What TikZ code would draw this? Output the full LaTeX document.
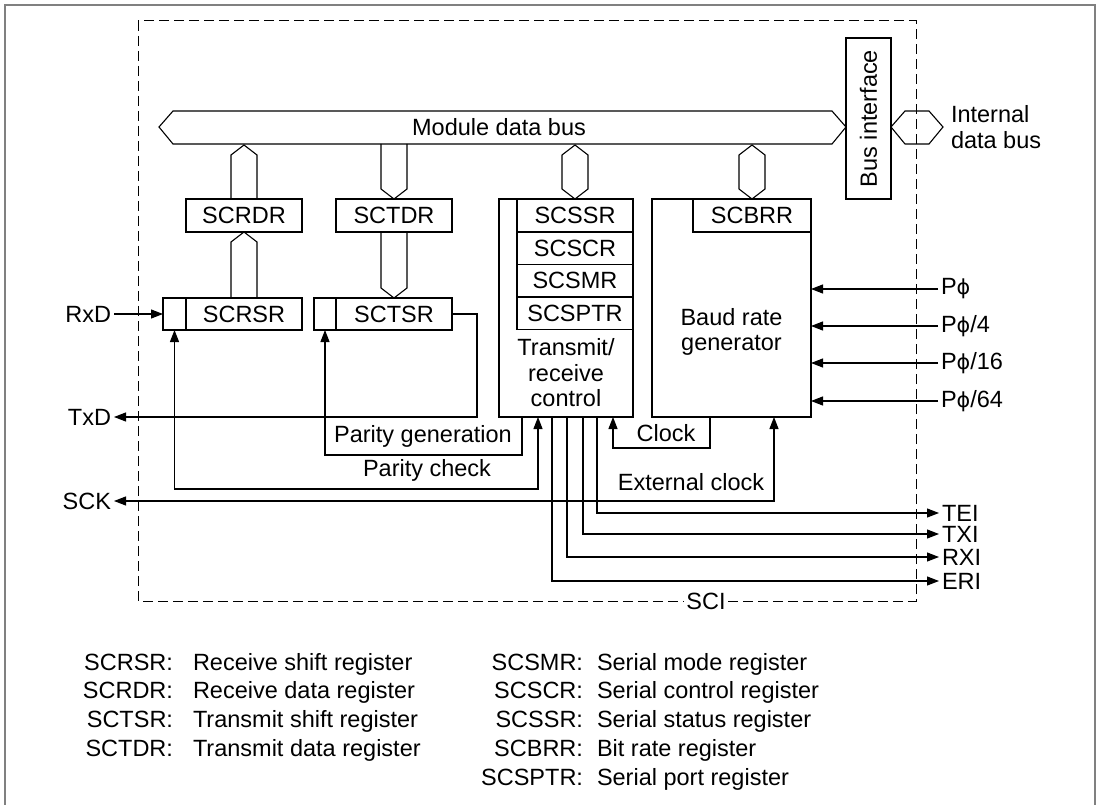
\documentclass[tikz,border=0pt]{standalone}
\usepackage{fontspec}
\setmainfont{Liberation Sans}
\newfontfamily\phifont{DejaVu Sans}[Scale=0.88]
\usetikzlibrary{arrows.meta,calc}
\newcommand{\Pphi}{P{\phifont ϕ}}
\begin{document}
\begin{tikzpicture}[x=1pt,y=-1pt,line width=1.1pt,
  every node/.style={font=\fontsize{23.5}{25.5}\selectfont,inner sep=0pt,outer sep=0pt},
  reg/.style={draw,inner sep=0pt,outer sep=0pt},
  arr/.style={-{Triangle[length=12pt,width=9pt]}},
  barr/.style={{Triangle[length=12pt,width=9pt]}-{Triangle[length=12pt,width=9pt]}},
  sig/.style={inner sep=3pt},
  irq/.style={inner xsep=3pt,inner ysep=0pt},
  frame/.style={draw=black!50,line width=1.6pt},
  sci/.style={draw,dashed,dash pattern=on 10pt off 5pt,line width=1pt}]
\useasboundingbox (0,0) rectangle (1101,805);
% outer frame
\draw[frame] (5,805) -- (5,5) -- (1095,5) -- (1095,805);
% SCI dashed boundary
\draw[sci] (138,21) rectangle (916,601);
\node[fill=white,inner sep=2pt] (scilbl) at (706,601) {SCI};

% bus interface
\node[reg,minimum width=45pt,minimum height=161pt] (busif) at (868.5,118.5) {};
\node[rotate=90] (busiftxt) at (busif.center) {Bus interface};

% module data bus
\draw (busif.west |- 0,127) coordinate (mbusR) -- (832,111) -- (173,111) -- (159,127) -- (173,144) -- (832,144) -- cycle;
\node (mbus) at (499,127) {Module data bus};
% internal data bus
\draw (busif.east |- 0,127) -- (905,111) -- (929,111) -- (943,127) -- (929,144) -- (905,144) -- cycle;
\node[anchor=west,align=left] (ibus) at (951,127) {Internal\\data bus};

% registers
\node[reg,minimum width=116pt,minimum height=33pt] (scrdr) at (244,215.5) {SCRDR};
\node[reg,minimum width=116pt,minimum height=33pt] (sctdr) at (394,215.5) {SCTDR};
\node[reg,minimum width=116pt,minimum height=32pt] (scrsr) at (244,314) {SCRSR};
\node[reg,minimum width=23pt,minimum height=32pt] (scrsrcell) at (174.5,314) {};
\node[reg,minimum width=116pt,minimum height=32pt] (sctsr) at (394,314) {SCTSR};
\node[reg,minimum width=22pt,minimum height=32pt] (sctsrcell) at (325,314) {};

% transmit/receive control
\node[reg,minimum width=134pt,minimum height=218pt] (ctrl) at (566,308) {};
\node[reg,minimum width=116pt,minimum height=33pt] (scssr) at (575,215.5) {SCSSR};
\node[reg,minimum width=116pt,minimum height=32.5pt] (scscr) at (575,248.25) {SCSCR};
\node[reg,minimum width=116pt,minimum height=32.5pt] (scsmr) at (575,280.75) {SCSMR};
\node[reg,minimum width=116pt,minimum height=32.5pt] (scsptr) at (575,313.25) {SCSPTR};
\node[align=center] (ctrltxt) at (566,373) {Transmit/\\receive\\control};

% baud rate generator
\node[reg,minimum width=159pt,minimum height=218pt] (baud) at (731.5,308) {};
\node[reg,minimum width=118pt,minimum height=33pt] (scbrr) at (752,215.5) {SCBRR};
\node[align=center] (baudtxt) at (731.5,332) {Baud rate\\generator};

% bus connectors
\draw (scrdr.north) ++(-13,0) -- ++(0,-44) -- ++(13,-10) -- ++(13,10) -- ++(0,44);
\draw (scrsr.north) ++(-13,0) -- ++(0,-56) -- ++(13,-10) -- ++(13,10) -- ++(0,56);
\draw (sctdr.north) ++(-13,-55) -- ++(0,45) -- ++(13,10) -- ++(13,-10) -- ++(0,-45);
\draw (sctsr.north) ++(-13,-66) -- ++(0,56) -- ++(13,10) -- ++(13,-10) -- ++(0,-56);
\draw (scssr.north) -- ++(-13,-10) -- ++(0,-34) -- ++(13,-10) -- ++(13,10) -- ++(0,34) -- cycle;
\draw (scbrr.north) -- ++(-13,-10) -- ++(0,-34) -- ++(13,-10) -- ++(13,10) -- ++(0,34) -- cycle;

% left pins
\node[sig,anchor=east] (rxd) at (114,314) {RxD};
\node[sig,anchor=east] (txd) at (114,417) {TxD};
\node[sig,anchor=east] (sck) at (114,501) {SCK};
\draw[arr] (rxd.east) -- (scrsrcell.west);
\draw[arr] (sctsr.east) -- ++(25,0) |- (txd.east);
\draw[arr] ([xshift=-44pt]ctrl.south) -- ++(0,38) -| (sctsrcell.south);
\node (pgen) at (423,436) {Parity generation};
\draw[barr] (scrsrcell.south) -- ++(0,159) -| ([xshift=-28pt]ctrl.south);
\node (pchk) at (427,470) {Parity check};
\draw[barr] (sck.east) -| ([xshift=42.5pt]baud.south);
\node (extclk) at (691,482) {External clock};
\draw[arr] ([xshift=-21.5pt]baud.south) -- ++(0,31) -| ([xshift=47pt]ctrl.south);
\node (clk) at (666,433) {Clock};

% clock inputs
\node[sig,anchor=west] (p1) at (938,289) {\Pphi};
\node[sig,anchor=west] (p4) at (938,326) {\Pphi/4};
\node[sig,anchor=west] (p16) at (938,363) {\Pphi/16};
\node[sig,anchor=west] (p64) at (938,401) {\Pphi/64};
\foreach \p in {p1,p4,p16,p64} \draw[arr] (\p.west) -- (\p.west -| baud.east);

% interrupt outputs
\node[irq,anchor=west] (tei) at (939,513) {TEI};
\node[irq,anchor=west] (txi) at (939,534) {TXI};
\node[irq,anchor=west] (rxi) at (939,557) {RXI};
\node[irq,anchor=west] (eri) at (939,581) {ERI};
\draw[arr] ([xshift=31pt]ctrl.south) |- (tei.west);
\draw[arr] ([xshift=17pt]ctrl.south) |- (txi.west);
\draw[arr] ([xshift=1pt]ctrl.south) |- (rxi.west);
\draw[arr] ([xshift=-14pt]ctrl.south) |- (eri.west);

% legend
\node[anchor=base east] (l1a) at (173,670) {SCRSR:};
\node[anchor=base west] (l1b) at (193,670) {Receive shift register};
\node[anchor=base east] (l2a) at (173,698) {SCRDR:};
\node[anchor=base west] (l2b) at (193,698) {Receive data register};
\node[anchor=base east] (l3a) at (173,727) {SCTSR:};
\node[anchor=base west] (l3b) at (193,727) {Transmit shift register};
\node[anchor=base east] (l4a) at (173,756) {SCTDR:};
\node[anchor=base west] (l4b) at (193,756) {Transmit data register};
\node[anchor=base east] (r1a) at (583,670) {SCSMR:};
\node[anchor=base west] (r1b) at (597,670) {Serial mode register};
\node[anchor=base east] (r2a) at (583,698) {SCSCR:};
\node[anchor=base west] (r2b) at (597,698) {Serial control register};
\node[anchor=base east] (r3a) at (583,727) {SCSSR:};
\node[anchor=base west] (r3b) at (597,727) {Serial status register};
\node[anchor=base east] (r4a) at (583,756) {SCBRR:};
\node[anchor=base west] (r4b) at (597,756) {Bit rate register};
\node[anchor=base east] (r5a) at (583,785) {SCSPTR:};
\node[anchor=base west] (r5b) at (597,785) {Serial port register};
\end{tikzpicture}
\end{document}
